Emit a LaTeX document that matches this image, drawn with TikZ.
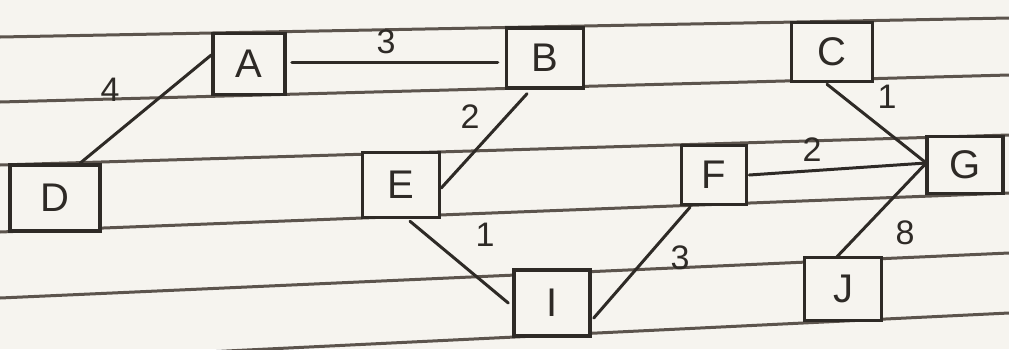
\documentclass[tikz,border=0pt]{standalone}
\usepackage{fontspec}
\setmainfont{Liberation Sans}
\usetikzlibrary{calc}
\definecolor{paper}{HTML}{F6F4EF}
\definecolor{ink}{HTML}{2E2A26}
\definecolor{rulecol}{HTML}{5C544D}
\begin{document}
\begin{tikzpicture}[x=1pt,y=-1pt,
  box/.style={draw=ink,line width=3.5pt,rectangle,inner sep=0pt,fill=paper,
    font=\fontsize{40}{40}\selectfont,text=ink},
  ruleline/.style={draw=rulecol,line width=3pt},
  edge/.style={draw=ink,line width=3pt,line cap=round},
  wt/.style={font=\fontsize{34}{34}\selectfont,text=ink,inner sep=0pt}]
\fill[paper] (0,0) rectangle (1009,349);
\useasboundingbox (0,0) rectangle (1009,349);
\begin{scope}
\clip (0,0) rectangle (1009,349);
\draw[ruleline] (0,37) -- (1009,18);
\draw[ruleline] (0,102) -- (1009,75);
\draw[ruleline] (0,165) -- (1009,135);
\draw[ruleline] (0,232) -- (1009,193);
\draw[ruleline] (0,298) -- (1009,253);
\draw[ruleline] (0,362) -- (1009,313);
\end{scope}
% nodes
\node[box,minimum width=72pt,minimum height=61pt] (A) at (249,64) {A};
\node[box,minimum width=77pt,minimum height=60pt] (B) at (545,58) {B};
\node[box,minimum width=81pt,minimum height=59pt] (C) at (832,52) {C};
\node[box,minimum width=90pt,minimum height=66pt] (D) at (55,198) {D};
\node[box,minimum width=77pt,minimum height=65pt] (E) at (401,185) {E};
\node[box,minimum width=65pt,minimum height=59pt] (F) at (714,175) {F};
\node[box,minimum width=76pt,minimum height=57pt] (G) at (965,165) {G};
\node[box,minimum width=76pt,minimum height=66pt] (I) at (552,303) {I};
\node[box,minimum width=77pt,minimum height=63pt] (J) at (843,289) {J};
\coordinate (g) at ($(G.west)+(1,-2)$);
% edges
\draw[edge] ($(D.north)+(25,0)$) -- ($(A.west)+(0,-9)$);
\draw[edge] ($(A.east)+(5,-2)$) -- ($(B.west)+(-7,4)$);
\draw[edge] ($(B.south)+(-18,4)$) -- ($(E.east)+(0,3)$);
\draw[edge] ($(E.south)+(9,2)$) -- ($(I.west)+(-4,0)$);
\draw[edge] ($(I.east)+(2,15)$) -- ($(F.south)+(-24,1)$);
\draw[edge] ($(F.east)+(1,0)$) -- (g);
\draw[edge] ($(C.south)+(-5,1)$) -- (g);
\draw[edge] ($(J.north)+(-6,1)$) -- (g);
% weights
\node[wt] (w1) at (110,90) {4};
\node[wt] (w2) at (386,42) {3};
\node[wt] (w3) at (470,117) {2};
\node[wt] (w4) at (485,235) {1};
\node[wt] (w5) at (680,258) {3};
\node[wt] (w6) at (812,150) {2};
\node[wt] (w7) at (887,97) {1};
\node[wt] (w8) at (905,233) {8};
\end{tikzpicture}
\end{document}
